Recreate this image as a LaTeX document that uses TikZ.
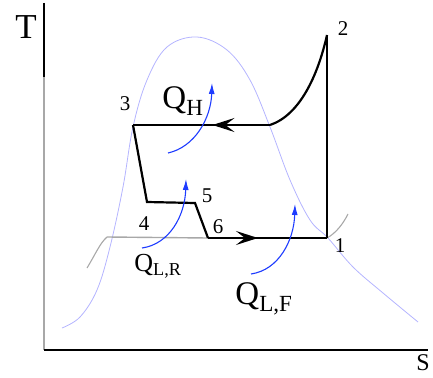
\documentclass[tikz,border=0pt]{standalone}
\usepackage{fontspec}
\setmainfont{Liberation Serif}
\usepackage{tikz}
\usetikzlibrary{arrows.meta,decorations.markings}
\usepackage{xcolor}
\definecolor{fdome}{HTML}{B4B4FF}
\definecolor{fheat}{HTML}{1E3CFF}
\definecolor{fsat}{HTML}{A8A8A8}

\begin{document}
\begin{tikzpicture}[x=1pt, y=-1pt,
  cyc/.style={line width=2.2pt, line join=miter},
  heat/.style={fheat, line width=1.1pt, -{Latex[length=11pt, width=6pt]}},
  midarrow/.style={postaction={decorate, decoration={markings,
      mark=at position #1 with {\arrow{Stealth[length=22pt, width=14pt, inset=9pt]}}}}},
  num/.style={font=\fontsize{21}{22}\selectfont},
  qlab/.style={font=\fontsize{33}{35}\selectfont}]
\useasboundingbox (0,0) rectangle (433,377);
% ---------------- axes ----------------
\coordinate (o) at (44,350);
\coordinate (ttop) at (44,3);
\coordinate (tmid) at (44,77);
\coordinate (send) at (428,350);
\draw[line width=1.4pt] (ttop) -- (tmid);
\draw[fsat, line width=1.4pt] (tmid) -- (o);
\draw[line width=1.4pt] (o) -- (send);
\node[font=\fontsize{35}{36}\selectfont] (tlab) at (26,27) {T};
\node[font=\fontsize{24}{26}\selectfont, inner sep=0pt] (slab) at (423,363) {S};
% ---------------- saturation dome ----------------
\draw[fdome, line width=0.8pt] plot[smooth, tension=0.6] coordinates {
  (62,328) (80,317) (97,290) (110,247) (123,187) (133,127) (147,80)
  (167,47) (197,37) (227,50) (250,80) (270,127) (290,180) (310,220)
  (328,238) (353,267) (383,293) (418,322)};
% ---------------- state points ----------------
\coordinate (p1) at (327,238);
\coordinate (p2) at (327,35);
\coordinate (pq) at (270,125);
\coordinate (p3) at (133,125);
\coordinate (p4) at (147,202);
\coordinate (p5) at (195,203);
\coordinate (p6) at (208,238);
\coordinate (g4) at (107,237);
% low-pressure isobar (grey)
\draw[fsat, line width=1.4pt] (g4) -- (p6);
\draw[fsat, line width=1.1pt] (87,268) .. controls (95,255) and (100,243) .. (g4);
\draw[fsat, line width=1.1pt] (p1) .. controls (336,233) and (343,224) .. (348,214);
% ---------------- cycle ----------------
\draw[cyc] (p1) -- (p2);
\draw[cyc] (p2) .. controls (318,75) and (300,115) .. (pq);
\draw[cyc, midarrow=0.42] (pq) -- (p3);
\draw[cyc] (p3) -- (p4) -- (p5) -- (p6);
\draw[cyc, midarrow=0.42] (p6) -- (p1);
\node[num] (n1) at (340,246) {1};
\node[num] (n2) at (343,29) {2};
\node[num] (n3) at (125,104) {3};
\node[num] (n4) at (144,224) {4};
\node[num] (n5) at (207,196) {5};
\node[num] (n6) at (218,227) {6};
% ---------------- heat flows ----------------
\coordinate (qhs) at (168,153);
\coordinate (qht) at (212,83);
\coordinate (qrs) at (142,248);
\coordinate (qrt) at (186,179);
\coordinate (qfs) at (251,274);
\coordinate (qft) at (295,204);
\draw[heat] (qhs) .. controls (195,147) and (211,118) .. (qht);
\draw[heat] (qrs) .. controls (170,244) and (185,215) .. (qrt);
\draw[heat] (qfs) .. controls (279,270) and (294,240) .. (qft);
\node[qlab] (qh) at (183,101) {Q\textsubscript{H}};
\node[qlab, font=\fontsize{26}{28}\selectfont] (qlr) at (158,266) {Q\textsubscript{L,R}};
\node[qlab] (qlf) at (264,299) {Q\textsubscript{L,F}};
\end{tikzpicture}
\end{document}
